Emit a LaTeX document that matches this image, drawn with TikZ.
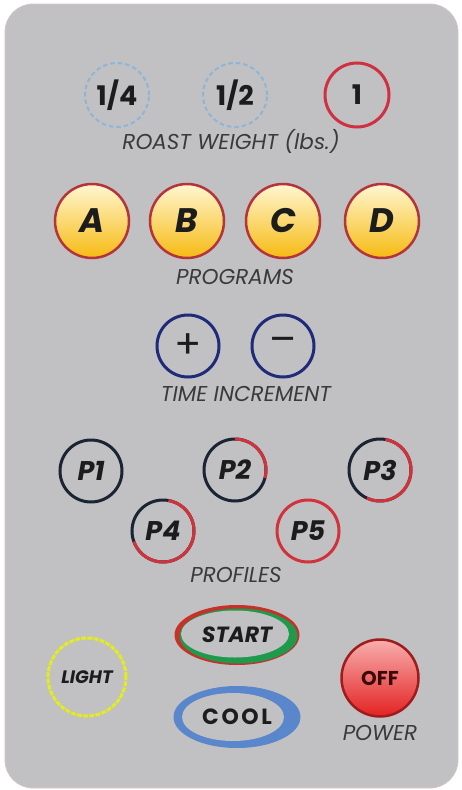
\documentclass[tikz,border=0pt]{standalone}
\usepackage{fontspec}
\setmainfont{Poppins}
\usetikzlibrary{shapes.geometric,calc}
\definecolor{bg}{HTML}{C1C1C3}
\definecolor{edge}{HTML}{D6C4C8}
\definecolor{txt}{HTML}{1C1C1C}
\definecolor{lbltxt}{HTML}{3A3A3C}
\definecolor{dashblue}{HTML}{8FB4D6}
\definecolor{ringred}{HTML}{CF3042}
\definecolor{progred}{HTML}{B5333A}
\definecolor{progtop}{HTML}{FFF6D2}
\definecolor{progbot}{HTML}{F6BA12}
\definecolor{navy}{HTML}{1F2A7A}
\definecolor{pdark}{HTML}{1B2433}
\definecolor{pred}{HTML}{D2323C}
\definecolor{startred}{HTML}{C8302A}
\definecolor{startgreen}{HTML}{1E9A4C}
\definecolor{coolblue}{HTML}{5A86CC}
\definecolor{lightyel}{HTML}{E2EC1E}
\definecolor{offtop}{HTML}{F8AEAE}
\definecolor{offbot}{HTML}{E42222}
\definecolor{offring}{HTML}{9E1C1C}
\definecolor{offtxt}{HTML}{3A0A0A}
\begin{document}
\begin{tikzpicture}[x=1pt,y=-1pt,
  btn/.style={circle, inner sep=0pt, outer sep=0pt, text=txt},
  wgt/.style={btn, minimum size=64pt, font=\bfseries\fontsize{27}{27}\selectfont},
  wdash/.style={wgt, draw=dashblue, line width=2pt, dash pattern=on 4.5pt off 3pt},
  wred/.style={wgt, draw=ringred, line width=3pt},
  prog/.style={btn, minimum size=74pt, draw=progred, line width=2.5pt,
    top color=progtop, bottom color=progbot,
    font=\bfseries\itshape\fontsize{34}{34}\selectfont},
  lbl/.style={inner sep=0pt, text=lbltxt, font=\itshape\fontsize{21.5}{21.5}\selectfont},
  timeb/.style={btn, minimum size=62pt, draw=navy, line width=3pt,
    font=\fontsize{40}{40}\selectfont},
  prof/.style={btn, minimum size=62pt, draw=pdark, line width=3pt,
    font=\bfseries\itshape\fontsize{27}{27}\selectfont},
  redarc/.style={draw=pred, line width=3pt}
]
\fill[white] (0,0) rectangle (462,790);
\useasboundingbox (0,0) rectangle (462,790);
\draw[fill=bg, draw=edge, line width=0.8pt, rounded corners=28pt] (5,4) rectangle (458,788);

% roast weight
\node[wdash] (w14) at (117,95) {1/4};
\node[wdash] (w12) at (235,95) {1/2};
\node[wred]  (w1)  at (357,95) {1};
\node[lbl] (lw) at (231,141) {ROAST WEIGHT (lbs.)};

% programs
\node[prog] (pa) at (92,221) {A};
\node[prog] (pb) at (187,221) {B};
\node[prog] (pc) at (283,221) {C};
\node[prog] (pd) at (382,221) {D};
\node[lbl] (lp) at (235,277) {PROGRAMS};

% time increment
\node[timeb] (plus) at (188,346) {+};
\node[timeb] (minus) at (283,346) {\raisebox{1pt}{–}};
\node[lbl] (lt) at (246,394) {TIME INCREMENT};

% profiles
\node[prof] (p1) at (91,471) {P1};
\node[prof] (p2) at (235,470) {P2};
\node[prof] (p3) at (380,470) {P3};
\node[prof] (p4) at (163,531) {P4};
\node[prof, draw=pred] (p5) at (308,531) {P5};
\draw[redarc] (p2.90) arc[start angle=90, end angle=-15, radius=31pt];
\draw[redarc] (p3.80) arc[start angle=80, end angle=-115, radius=31pt];
\draw[redarc] (p4.80) arc[start angle=80, end angle=-160, radius=31pt];
\node[lbl] (lpr) at (236,575) {PROFILES};

% start
\node[ellipse, inner sep=0pt, outer sep=0pt, minimum width=125pt, minimum height=60pt,
  fill=startred, text=txt, font=\bfseries\itshape\fontsize{22}{22}\selectfont,
  path picture={
    \fill[startgreen] ($(path picture bounding box.center)+(1.5pt,-1pt)$) ellipse [x radius=59pt, y radius=27.5pt];
    \fill[bg] ($(path picture bounding box.center)+(-2pt,1pt)$) ellipse [x radius=54pt, y radius=23.5pt];
  }] (start) at (237,635) {START};

% cool
\node[ellipse, inner sep=0pt, outer sep=0pt, minimum width=127pt, minimum height=62pt,
  fill=coolblue, text=txt,
  font=\bfseries\fontsize{22}{22}\selectfont\addfontfeatures{LetterSpace=12},
  path picture={
    \fill[bg] ($(path picture bounding box.center)+(-4pt,0pt)$) ellipse [x radius=51pt, y radius=24pt];
  }] (cool) at (237,717) {COOL};

% light
\node[btn, minimum size=78pt, draw=lightyel, line width=3pt, dash pattern=on 5pt off 1.2pt,
  font=\bfseries\itshape\fontsize{18}{18}\selectfont] (light) at (87,677) {LIGHT};

% off
\node[btn, minimum size=77pt, draw=offring, line width=2.5pt, top color=offtop, bottom color=offbot,
  text=offtxt, font=\bfseries\fontsize{20}{20}\selectfont] (off) at (380,678) {OFF};
\node[lbl] (lpow) at (380,733) {POWER};
\end{tikzpicture}
\end{document}
